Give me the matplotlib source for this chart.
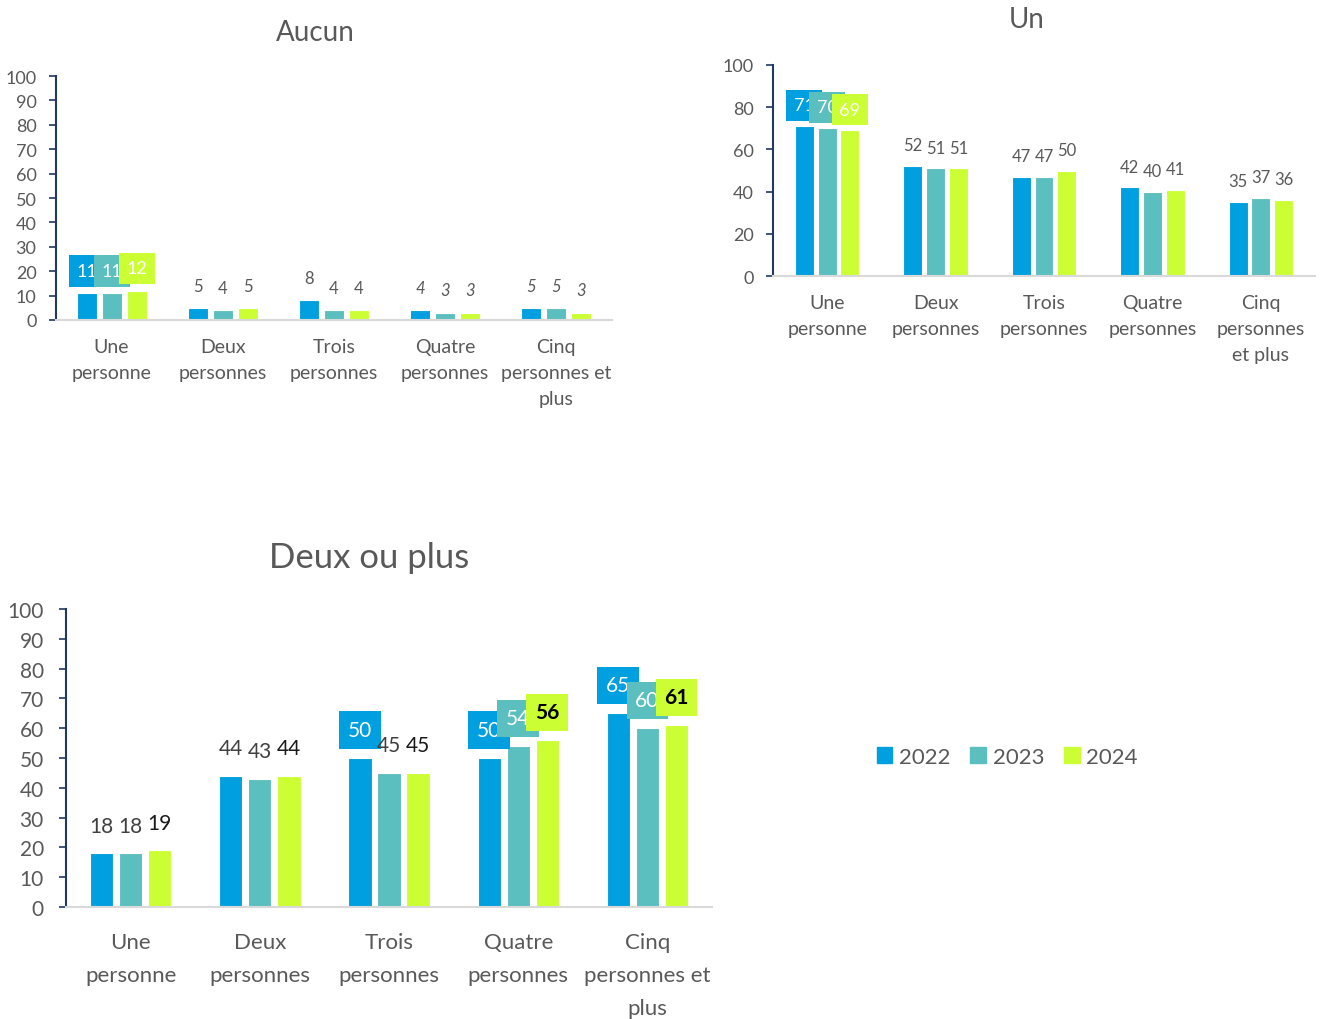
import matplotlib.pyplot as plt
from matplotlib.patches import Patch
import numpy as np

plt.rcParams['font.family'] = ['Lato', 'DejaVu Sans']

years = ['2022', '2023', '2024']
colors = ['#009FDF', '#5BBFBF', '#CCFF33']
grey = '#595959'

cats_aucun = ['Une\npersonne', 'Deux\npersonnes', 'Trois\npersonnes',
              'Quatre\npersonnes', 'Cinq\npersonnes et\nplus']
cats_un = ['Une\npersonne', 'Deux\npersonnes', 'Trois\npersonnes',
           'Quatre\npersonnes', 'Cinq\npersonnes\net plus']
cats_deux = ['Une\npersonne', 'Deux\npersonnes', 'Trois\npersonnes',
             'Quatre\npersonnes', 'Cinq\npersonnes et\nplus']

aucun_2022 = [11, 5, 8, 4, 5]
aucun_2023 = [11, 4, 4, 3, 5]
aucun_2024 = [12, 5, 4, 3, 3]

un_2022 = [71, 52, 47, 42, 35]
un_2023 = [70, 51, 47, 40, 37]
un_2024 = [69, 51, 50, 41, 36]

deux_2022 = [18, 44, 50, 50, 65]
deux_2023 = [18, 43, 45, 54, 60]
deux_2024 = [19, 44, 45, 56, 61]


def panel(ax, series, cats, title, step, boxed, dark_box=(), italic_cats=(),
          tick_fs=13, cat_fs=14, lab_fs=12, box_fs=13, title_fs=20, spacing=0.225,
          width=0.18, off=16, lab_color=grey, title_pad=26, cat_pad=13,
          title_x=0.466, lsp=1.65, tick_pad=9):
    x = np.arange(len(cats))
    for i, vals in enumerate(series):
        pos = x + (i - 1) * spacing
        ax.bar(pos, vals, width, color=colors[i], edgecolor='white', linewidth=0.8, zorder=2)
        for j, v in enumerate(vals):
            kw = dict(ha='center', va='center',
                      textcoords='offset points', xytext=(0, off), zorder=5 + i)
            if (i, j) in boxed:
                tc = 'white'
                fw = 'normal'
                if (i, j) in dark_box:
                    tc, fw = 'black', 'bold'
                ax.annotate(str(v), (pos[j], v), color=tc, fontweight=fw, fontsize=box_fs,
                            bbox=dict(boxstyle='square,pad=0.42', fc=colors[i], ec='none'),
                            **kw)
            else:
                st = 'italic' if j in italic_cats else 'normal'
                c = lab_color[i] if isinstance(lab_color, list) else lab_color
                ax.annotate(str(v), (pos[j], v), color=c, fontstyle=st, fontsize=lab_fs, **kw)
    ax.set_xlim(-0.5, len(cats) - 0.5)
    ax.set_ylim(0, 100)
    ax.set_yticks(np.arange(0, 101, step))
    ax.set_xticks(x)
    ax.set_xticklabels(cats, linespacing=lsp)
    ax.tick_params(axis='x', length=0, pad=cat_pad, labelsize=cat_fs, labelcolor=grey)
    ax.tick_params(axis='y', direction='out', length=5, width=1.2, color='#1F3864',
                   labelsize=tick_fs, labelcolor=grey, pad=tick_pad)
    for s in ['top', 'right']:
        ax.spines[s].set_visible(False)
    ax.spines['left'].set_color('#1F3864')
    ax.spines['left'].set_linewidth(1.5)
    ax.spines['bottom'].set_color('#D9D9D9')
    ax.spines['bottom'].set_linewidth(1.5)
    ax.set_title(title, fontsize=title_fs, color=grey, pad=title_pad, x=title_x)
    ax.set_facecolor('none')


fig = plt.figure(figsize=(13.2, 10.2), dpi=100)

ax1 = fig.add_axes([0.0424, 0.6853, 0.4212, 0.2392])
panel(ax1, [aucun_2022, aucun_2023, aucun_2024], cats_aucun, 'Aucun', 10,
      boxed={(0, 0), (1, 0), (2, 0)}, italic_cats=(3, 4), title_pad=26,
      title_x=0.466)

ax2 = fig.add_axes([0.5856, 0.7284, 0.4106, 0.2069])
panel(ax2, [un_2022, un_2023, un_2024], cats_un, 'Un', 20,
      boxed={(0, 0), (1, 0), (2, 0)}, spacing=0.21, width=0.175, off=15,
      title_pad=27, title_x=0.469)

ax3 = fig.add_axes([0.05, 0.1098, 0.4894, 0.2922])
panel(ax3, [deux_2022, deux_2023, deux_2024], cats_deux, 'Deux ou plus', 10,
      boxed={(0, 2), (0, 3), (1, 3), (2, 3), (0, 4), (1, 4), (2, 4)},
      dark_box={(2, 3), (2, 4)}, tick_fs=15, cat_fs=16, lab_fs=15, box_fs=15,
      title_fs=25, spacing=0.225, width=0.18, off=20,
      lab_color=['#404040', '#404040', '#1a1a1a'],
      title_pad=30, cat_pad=18, title_x=0.47, lsp=1.8, tick_pad=11)

handles = [Patch(color=c, label=y) for c, y in zip(colors, years)]
fig.legend(handles=handles, loc='center', bbox_to_anchor=(0.763, 0.257), ncol=3,
           frameon=False, fontsize=16, handlelength=0.7, handleheight=0.7,
           handletextpad=0.3, columnspacing=0.9, labelcolor=grey)

fig.savefig('out.png', dpi=100)
